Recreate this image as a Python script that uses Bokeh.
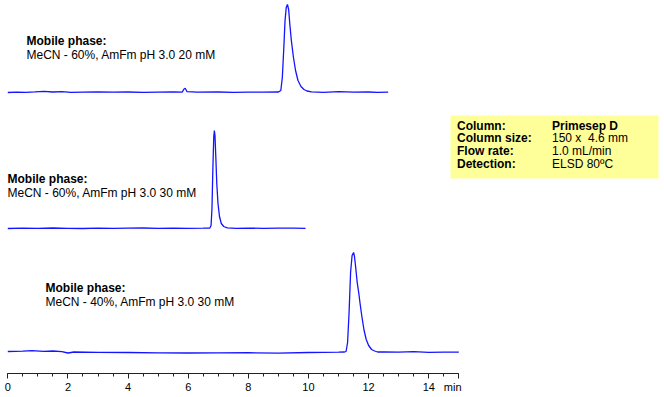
from bokeh.plotting import figure
from bokeh.models import Range1d, FixedTicker, Label, BoxAnnotation
from bokeh.embed import file_html
from bokeh.resources import INLINE

# ---- data (time in min, signal height above each trace's baseline) ----
t_top = [0, 0.3, 0.6, 0.9, 1.2, 1.5, 1.8, 2.1, 2.5, 3.0, 3.5, 4.0, 4.5, 5.0, 5.5, 5.8, 5.86, 5.9, 5.96, 6.3,
         7.0, 7.5, 8.0, 8.5, 9.0, 9.08, 9.13, 9.18, 9.22, 9.26, 9.3, 9.34, 9.38, 9.43, 9.5, 9.57, 9.65,
         9.75, 9.85, 9.95, 10.1, 10.5, 11.0, 11.5, 12.0, 12.3, 12.65]
s_top = [0, 0.4, 0.2, 0.6, 1.2, 0.5, 0.8, 0.2, 0.4, 0.6, 0.3, 0.5, 0.2, 0.4, 0.6, 0.4, 3.5, 4.2, 0.8, 0.3,
         0.5, 0.2, 0.4, 0.3, 0.5, 2, 15, 45, 72, 85, 88, 83, 68, 52, 35, 22, 12,
         6, 3, 1.5, 0.6, 0.2, 0.8, 0.3, 0.5, 0.2, 0.3]

t_mid = [0, 0.5, 1.0, 1.5, 2.0, 2.5, 3.0, 3.5, 4.0, 4.5, 5.0, 5.5, 6.0, 6.5, 6.72, 6.76, 6.79, 6.82, 6.85,
         6.87, 6.89, 6.92, 6.95, 6.99, 7.04, 7.1, 7.18, 7.3, 7.6, 8.0, 8.5, 9.0, 9.5, 9.9]
s_mid = [0, 0.3, 0.1, 0.5, 0.2, 0, 0.4, 0.1, 0.3, 0.5, 0.1, 0.3, 0.1, 0.3, 0.5, 3, 20, 60, 92,
         98, 93, 70, 45, 25, 12, 5, 2, 0.6, 0.1, 0.4, 0.1, 0.3, 0.4, 0.1]

t_bot = [0, 0.5, 0.8, 1.2, 1.5, 1.8, 2.0, 2.2, 3.0, 4.0, 5.0, 6.0, 7.0, 8.0, 9.0, 10.0, 11.0, 11.2,
         11.25, 11.3, 11.35, 11.4, 11.45, 11.5, 11.53, 11.57, 11.62, 11.67, 11.72, 11.78, 11.85,
         11.92, 12.0, 12.1, 12.2, 12.3, 12.5, 13.0, 13.5, 14.0, 14.5, 15.0]
s_bot = [1.0, 1.3, 1.8, 1.2, 1.5, 0.8, -0.5, 0.5, 0.2, 0.0, -0.3, -0.5, -0.3, -0.2, -0.6, 0.0, 0.3, 0.5,
         1, 10, 40, 80, 97, 100, 96, 85, 70, 60, 48, 35, 22,
         13, 7, 3, 1.5, 0.5, 0.5, 0.3, 0.8, 0.2, 0.4, 0.3]

baselines = [281, 145, 21]   # vertical offsets of the three traces

phase_titles = ["Mobile phase:", "Mobile phase:", "Mobile phase:"]
phase_texts = ["MeCN - 60%, AmFm pH 3.0 20 mM",
               "MeCN - 60%, AmFm pH 3.0 30 mM",
               "MeCN - 40%, AmFm pH 3.0 30 mM"]

info_keys = ["Column:", "Column size:", "Flow rate:", "Detection:"]
info_vals = ["Primesep D", "150 x \u00a04.6 mm", "1.0 mL/min", "ELSD 80\u00baC"]

major_ticks = [0, 2, 4, 6, 8, 10, 12, 14, 15]
minor_ticks = [i * 0.5 for i in range(31)]
x_unit = "min"

FONT = "Liberation Sans"
BLUE = "#1414ff"

p = figure(frame_width=664, frame_height=373, output_backend="svg", toolbar_location=None,
           x_range=Range1d(-0.243, 21.84), y_range=Range1d(0, 373),
           min_border_left=0, min_border_right=0, min_border_top=0, min_border_bottom=0,
           y_axis_location=None)
p.outline_line_color = None
p.xgrid.visible = False
p.ygrid.visible = False
p.background_fill_color = "white"
p.border_fill_color = "white"

for t, s, b in zip([t_top, t_mid, t_bot], [s_top, s_mid, s_bot], baselines):
    p.line(t, [v + b for v in s], line_color=BLUE, line_width=1.3)

ax = p.xaxis[0]
ax.ticker = FixedTicker(ticks=major_ticks, minor_ticks=minor_ticks)
ax.bounds = (0, 15)
# unit label sits in the tick-label row, slightly left of the final tick
ax.major_label_overrides = {15: x_unit + "\u00a0" * 4}
ax.axis_line_color = "#222222"
ax.major_tick_line_color = "#222222"
ax.minor_tick_line_color = "#222222"
ax.major_tick_in = 0
ax.major_tick_out = 5
ax.minor_tick_in = 0
ax.minor_tick_out = 3
ax.major_label_standoff = 2
ax.major_label_text_font = FONT
ax.major_label_text_font_size = "11px"
ax.major_label_text_color = "black"

# mobile phase annotations (screen positions)
title_pos = [(26, 333), (7, 195), (45, 86)]
for (x, y), ttl, txt in zip(title_pos, phase_titles, phase_texts):
    p.add_layout(Label(x=x, y=y, x_units="screen", y_units="screen", text=ttl,
                       text_font=FONT, text_font_size="12px", text_font_style="bold",
                       text_baseline="middle", text_color="black"))
    p.add_layout(Label(x=x, y=y - 14, x_units="screen", y_units="screen", text=txt,
                       text_font=FONT, text_font_size="12px",
                       text_baseline="middle", text_color="black"))

# info box
p.add_layout(BoxAnnotation(left=450, right=658, top=258, bottom=195,
                           left_units="screen", right_units="screen",
                           top_units="screen", bottom_units="screen",
                           fill_color="#ffff99", fill_alpha=1.0, line_color=None))
row_y = [248, 235.3, 222.6, 209.9]
for y, k, v in zip(row_y, info_keys, info_vals):
    p.add_layout(Label(x=456.5, y=y, x_units="screen", y_units="screen", text=k,
                       text_font=FONT, text_font_size="12px", text_font_style="bold",
                       text_baseline="middle", text_color="black"))
    p.add_layout(Label(x=551.5, y=y, x_units="screen", y_units="screen", text=v,
                       text_font=FONT, text_font_size="12px",
                       text_font_style="bold" if k == "Column:" else "normal",
                       text_baseline="middle", text_color="black"))

open("out.html", "w").write(file_html(p, INLINE))
